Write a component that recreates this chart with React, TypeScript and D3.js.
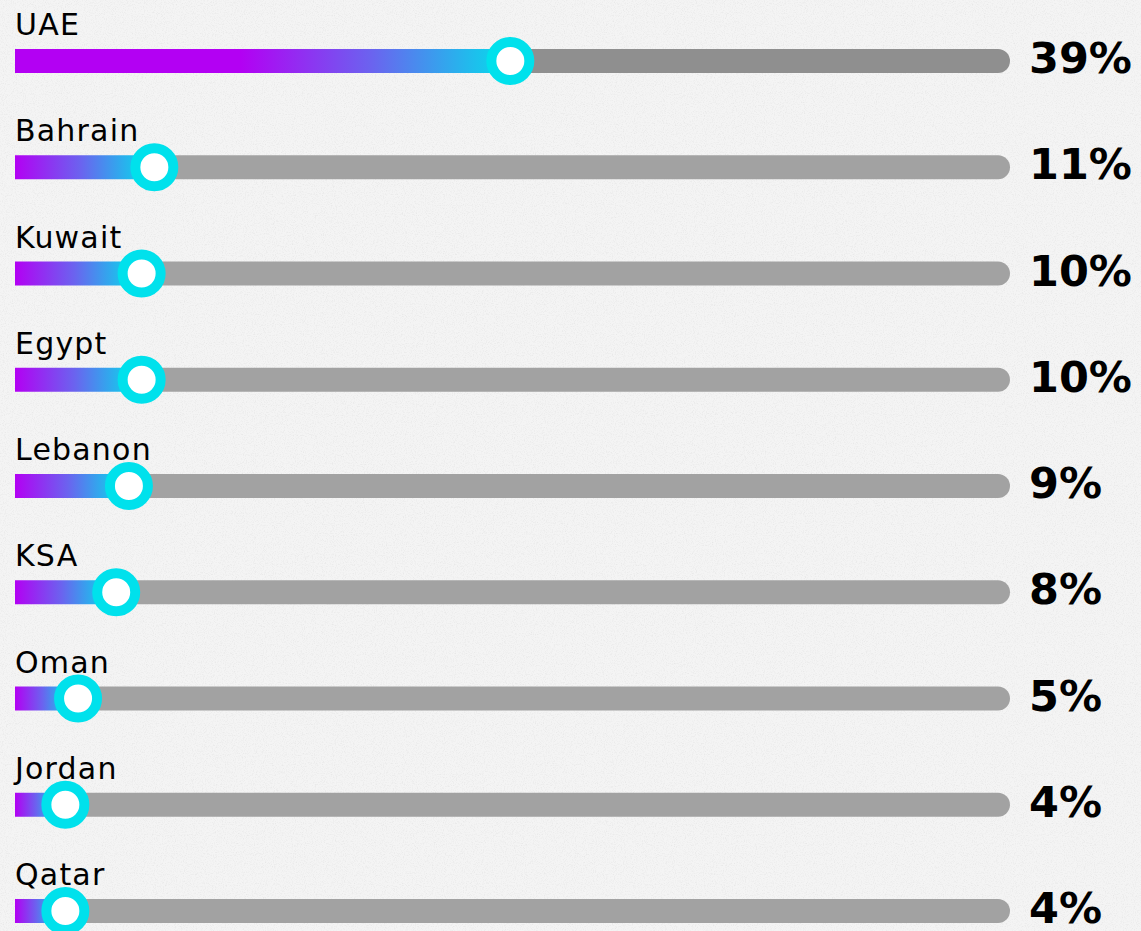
import * as d3 from 'd3'
import { useEffect } from 'react'

const countries = ['UAE', 'Bahrain', 'Kuwait', 'Egypt', 'Lebanon', 'KSA', 'Oman', 'Jordan', 'Qatar']
const shares = [39, 11, 10, 10, 9, 8, 5, 4, 4]

const width = 1141
const height = 931
const trackLeft = 15
const trackRight = 1010
const barH = 24

export default function App() {
  useEffect(() => {
    document.body.style.margin = '0'
    document.body.style.background = '#f3f3f3'
  }, [])

  // rows sit on a fixed step
  const y = d3.scalePoint<string>().domain(countries).range([61, 911])
  // knob position along the track
  const x = d3.scaleLinear().domain([0, 78.3]).range([trackLeft - 0.5, trackRight])

  return (
    <svg width={width} height={height} style={{ display: 'block' }}>
      <defs>
        <filter id="paper" x="0" y="0" width="100%" height="100%">
          <feTurbulence type="fractalNoise" baseFrequency="0.9" numOctaves="3" seed="4" result="n" />
          <feColorMatrix type="matrix" values="0 0 0 0 0.45  0 0 0 0 0.45  0 0 0 0 0.45  0 0 0 -1.4 0.75" />
        </filter>
        {countries.map((c, i) => {
          const kx = x(shares[i])
          return (
            <linearGradient key={c} id={`grad${i}`} gradientUnits="userSpaceOnUse"
              x1={Math.max(trackLeft, kx - 270)} y1={0} x2={kx - 8} y2={0}>
              <stop offset="0" stopColor="#b300f3" />
              <stop offset="0.5" stopColor="#6b63ef" />
              <stop offset="1" stopColor="#08d8ec" />
            </linearGradient>
          )
        })}
      </defs>
      <rect width={width} height={height} fill="#f4f4f4" />
      <rect width={width} height={height} filter="url(#paper)" opacity={0.3} />

      {countries.map((c, i) => {
        const cy = y(c)!
        const kx = x(shares[i])
        return (
          <g key={c}>
            <text x={trackLeft} y={cy - 26} fontFamily="'DejaVu Sans', sans-serif" fontSize={30}
              letterSpacing={1.2} fill="#000">{c}</text>
            <rect x={kx} y={cy - barH / 2} width={trackRight - kx} height={barH} rx={barH / 2}
              fill={i === 0 ? '#8f8f8f' : '#a2a2a2'} />
            <rect x={trackLeft} y={cy - barH / 2} width={kx - trackLeft} height={barH}
              fill={`url(#grad${i})`} />
            <circle cx={kx} cy={cy} r={19} fill="#fff" stroke="#00e1ec" strokeWidth={10} />
            <text x={1029} y={cy + 12} fontFamily="'DejaVu Sans', sans-serif" fontWeight={700}
              fontSize={43} fill="#000">{d3.format('d')(shares[i])}%</text>
          </g>
        )
      })}
    </svg>
  )
}
